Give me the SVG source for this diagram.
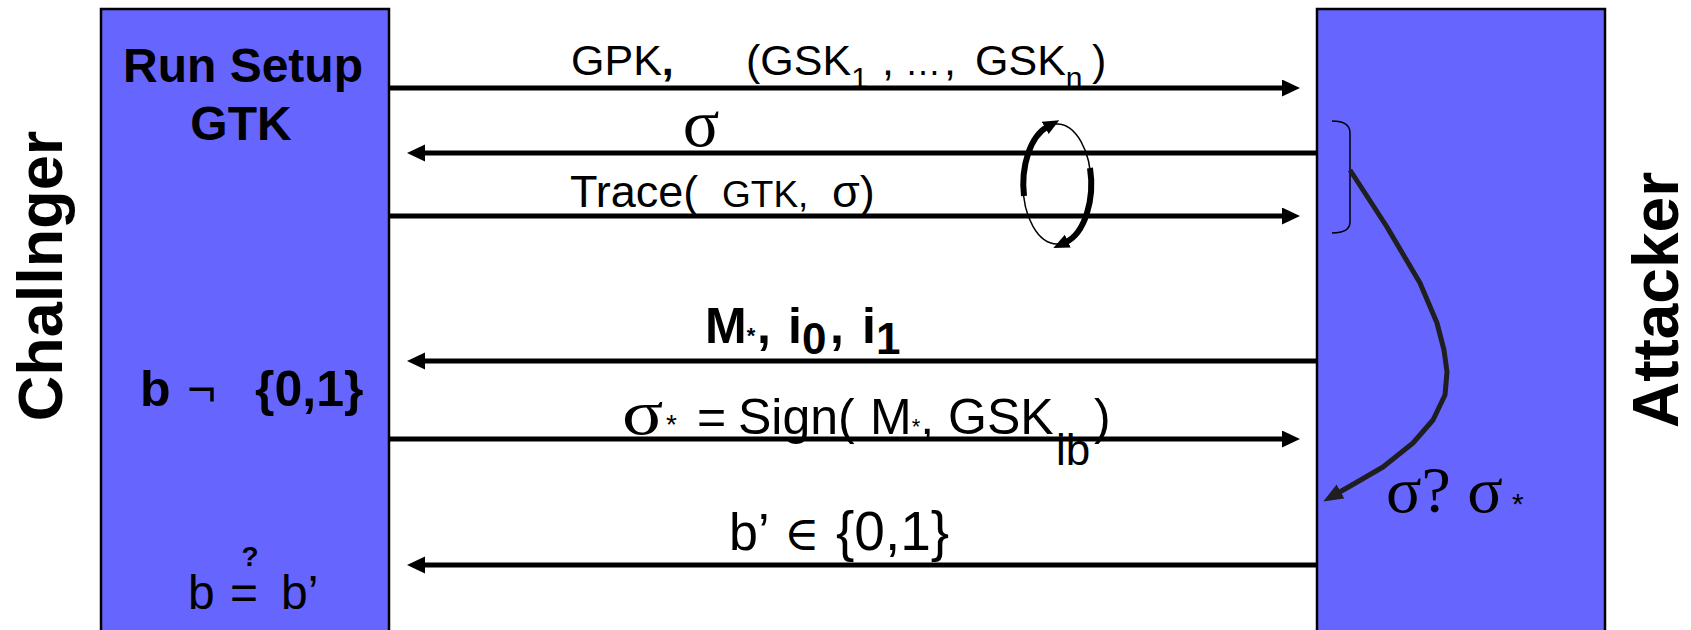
<svg xmlns="http://www.w3.org/2000/svg" width="1691" height="630" viewBox="0 0 1691 630">
<style>
.box{fill:#6666FF;stroke:#000;stroke-width:2.5}
.ln{stroke:#000;stroke-width:5;fill:none}
.s{font-family:"Liberation Sans",Arial,sans-serif;fill:#000}
.b{font-weight:bold}
.n{font-weight:normal}
.sr{font-family:"Liberation Serif","Times New Roman",serif;fill:#000}
</style>
<defs>
<marker id="ah" markerUnits="userSpaceOnUse" markerWidth="19" markerHeight="18" refX="2" refY="8.5" orient="auto"><path d="M0,0 L18,8.5 L0,17 z" fill="#000"/></marker>
<marker id="ah2" markerUnits="userSpaceOnUse" markerWidth="22" markerHeight="18" refX="3" refY="8" orient="auto"><path d="M0,0 L20,8 L0,16 z" fill="#1f1f1f"/></marker>
<marker id="ah3" markerUnits="userSpaceOnUse" markerWidth="18" markerHeight="16" refX="2" refY="7" orient="auto"><path d="M0,0 L16,7 L0,14 z" fill="#000"/></marker>
</defs>
<rect width="1691" height="630" fill="#fff"/>

<g id="challenger">
<rect class="box" x="101" y="9" width="288" height="640"/>
<text class="s b" x="243" y="82" font-size="48" text-anchor="middle">Run Setup</text>
<text class="s b" x="241" y="140" font-size="48" text-anchor="middle">GTK</text>
<text class="s b" font-size="50" y="406"><tspan x="140">b</tspan><tspan x="187" class="n">¬</tspan><tspan x="255">{0,1}</tspan></text>
<text class="s" font-size="48" y="609"><tspan x="188">b</tspan><tspan x="230">=</tspan><tspan x="281">b’</tspan></text>
<text class="s b" x="250" y="566" font-size="28" text-anchor="middle">?</text>
</g>
<text id="challenger-label" class="s b" font-size="63" text-anchor="middle" transform="translate(62,276) rotate(-90)">Challnger</text>

<g id="attacker">
<rect class="box" x="1317" y="9" width="288" height="640"/>
<path d="M1332,121 Q1350,121 1350,133 L1350,222 Q1350,233 1332,233" fill="none" stroke="#000" stroke-width="1.5"/>
<text class="sr" font-size="66" y="512"><tspan x="1386">σ? σ</tspan></text>
<text class="s" font-size="30" x="1512" y="514">*</text>
</g>
<text id="attacker-label" class="s b" font-size="64" text-anchor="middle" transform="translate(1678,300) rotate(-90)">Attacker</text>

<g id="connectors">
<line class="ln" x1="389" y1="88" x2="1284" y2="88" marker-end="url(#ah)"/>
<line class="ln" x1="1317" y1="153" x2="423" y2="153" marker-end="url(#ah)"/>
<line class="ln" x1="389" y1="216" x2="1284" y2="216" marker-end="url(#ah)"/>
<line class="ln" x1="1317" y1="361" x2="423" y2="361" marker-end="url(#ah)"/>
<line class="ln" x1="389" y1="439" x2="1284" y2="439" marker-end="url(#ah)"/>
<line class="ln" x1="1317" y1="565" x2="423" y2="565" marker-end="url(#ah)"/>
<path d="M1350,170 L1387,227 L1420,283 L1437,323 L1444,350 L1447,372 L1445,395 L1433,420 L1413,443 L1383,467 L1352,485 L1338,493" fill="none" stroke="#1f1f1f" stroke-width="5" stroke-linejoin="round" marker-end="url(#ah2)"/>
<g id="loop">
<ellipse cx="1057" cy="184" rx="34" ry="60" fill="none" stroke="#000" stroke-width="1.5"/>
<path d="M1024,196 A34 60 0 0 1 1047,127" fill="none" stroke="#000" stroke-width="6" marker-end="url(#ah3)"/>
<path d="M1090,168 A34 60 0 0 1 1066,242" fill="none" stroke="#000" stroke-width="6" marker-end="url(#ah3)"/>
</g>
</g>

<g id="labels">
<text class="s" font-size="43" y="75"><tspan x="571">GPK</tspan><tspan class="b">,</tspan><tspan x="746">(GSK</tspan><tspan font-size="30" y="88">1</tspan><tspan x="882" y="75">,</tspan><tspan x="905" font-size="36">…</tspan><tspan x="944">,</tspan><tspan x="975">GSK</tspan><tspan font-size="30" y="88">n</tspan><tspan x="1092" y="75">)</tspan></text>
<text class="sr" font-size="68" x="701" y="146" text-anchor="middle">σ</text>
<text class="s" font-size="45" y="207"><tspan x="570">Trace(</tspan><tspan x="722" font-size="37">GTK,</tspan><tspan x="832">σ)</tspan></text>
<text class="s b" font-size="50" y="343"><tspan x="705">M</tspan><tspan font-size="22">*</tspan><tspan x="757">,</tspan><tspan x="788">i</tspan><tspan font-size="44" y="354">0</tspan><tspan x="830" y="343">,</tspan><tspan x="862">i</tspan><tspan font-size="44" y="354">1</tspan></text>
<text class="sr" font-size="64" transform="translate(622,434) scale(1.2,1)">σ</text>
<text class="s" font-size="50" y="434"><tspan x="666" font-size="28">*</tspan><tspan x="697">=</tspan><tspan x="738">Sign(</tspan><tspan x="870">M</tspan><tspan font-size="22">*</tspan><tspan>,</tspan><tspan x="948">GSK</tspan><tspan x="1094">)</tspan></text>
<text class="s" font-size="44" y="465"><tspan x="1056">i</tspan><tspan>b</tspan></text>
<text class="s" font-size="52" y="550"><tspan x="729">b’</tspan><tspan x="784" font-size="48" font-family="Liberation Serif, DejaVu Serif, serif">∈</tspan><tspan x="836" font-size="55">{0,1}</tspan></text>
</g>
</svg>
